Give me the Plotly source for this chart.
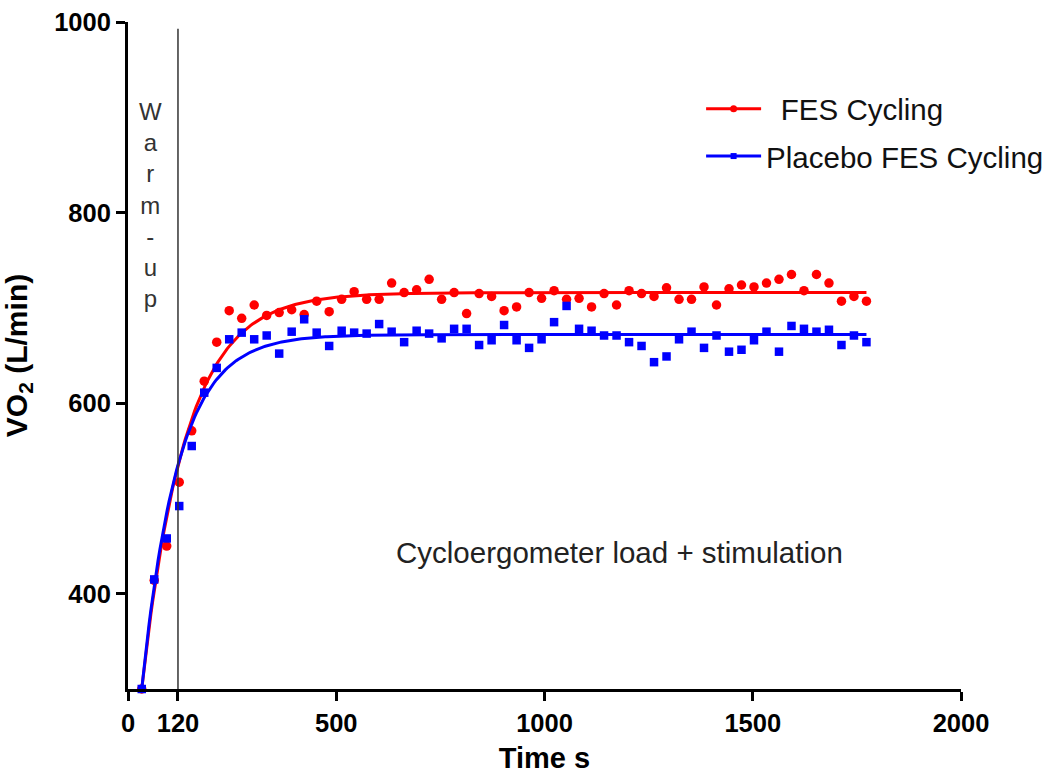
import numpy as np
import plotly.graph_objects as go

# ---- data ----
time_s = [33, 63, 93, 123, 153, 183, 213, 243, 273, 303, 333, 363, 393, 423, 453,
          483, 513, 543, 573, 603, 633, 663, 693, 723, 753, 783, 813, 843, 873, 903,
          933, 963, 993, 1023, 1053, 1083, 1113, 1143, 1173, 1203, 1233, 1263, 1293,
          1323, 1353, 1383, 1413, 1443, 1473, 1503, 1533, 1563, 1593, 1623, 1653,
          1683, 1713, 1743, 1773]

fes_vo2 = [300, 414, 450, 517, 571, 623, 664, 697, 689, 703, 692, 695, 698, 693, 707,
           696, 709, 717, 709, 709, 726, 716, 719, 730, 709, 716, 694, 715, 712, 697,
           701, 716, 710, 718, 709, 710, 701, 715, 703, 718, 715, 712, 721, 709, 709,
           722, 703, 720, 724, 722, 726, 730, 735, 718, 735, 726, 707, 712, 707]

placebo_vo2 = [300, 415, 458, 492, 555, 611, 637, 667, 674, 667, 671, 652, 675, 688, 674,
               660, 676, 674, 673, 683, 675, 664, 676, 673, 668, 678, 678, 661, 666, 682,
               666, 658, 667, 685, 702, 678, 676, 671, 671, 664, 660, 643, 649, 667, 675,
               658, 671, 654, 656, 666, 675, 654, 681, 678, 675, 677, 661, 671, 664]

# one-phase association fit parameters
fes_fit = dict(y0=300, plateau=716, tau=105)
placebo_fit = dict(y0=300, plateau=672, tau=87)

series_names = ["\u2002FES Cycling", "Placebo FES Cycling"]
x_ticks = [0, 120, 500, 1000, 1500, 2000]
y_ticks = [400, 600, 800, 1000]
warmup_end = 120

FONT = "Liberation Sans, Arial, sans-serif"


def one_phase(t, p, t0):
    t = np.asarray(t, float)
    return p["y0"] + (p["plateau"] - p["y0"]) * (1 - np.exp(-(t - t0) / p["tau"]))


t_curve = np.linspace(time_s[0], time_s[-1], 400)

fig = go.Figure()

# FES (red)
fig.add_trace(go.Scatter(x=time_s, y=fes_vo2, mode="markers", showlegend=False,
                         marker=dict(symbol="circle", size=9.5, color="#FF0000"),
                         cliponaxis=False))
fig.add_trace(go.Scatter(x=t_curve, y=one_phase(t_curve, fes_fit, time_s[0]),
                         mode="lines", showlegend=False,
                         line=dict(color="#FF0000", width=3)))
# Placebo (blue)
fig.add_trace(go.Scatter(x=time_s, y=placebo_vo2, mode="markers", showlegend=False,
                         marker=dict(symbol="square", size=8.5, color="#0000FF"),
                         cliponaxis=False))
fig.add_trace(go.Scatter(x=t_curve, y=one_phase(t_curve, placebo_fit, time_s[0]),
                         mode="lines", showlegend=False,
                         line=dict(color="#0000FF", width=3)))

# legend entries
fig.add_trace(go.Scatter(x=[None], y=[None], mode="lines+markers", name=series_names[0],
                         legendgroup="a",
                         line=dict(color="#FF0000", width=3),
                         marker=dict(symbol="circle", size=7, color="#FF0000")))
fig.add_trace(go.Scatter(x=[None], y=[None], mode="lines+markers", name=series_names[1],
                         legendgroup="b",
                         line=dict(color="#0000FF", width=3),
                         marker=dict(symbol="square", size=6, color="#0000FF")))

# warm-up separator
fig.add_shape(type="line", x0=warmup_end, x1=warmup_end, y0=300, y1=993,
              xref="x", yref="y", line=dict(color="#333333", width=1.5))

fig.add_annotation(x=53, y=808, xref="x", yref="y", showarrow=False,
                   text="W<br>a<br>r<br>m<br>-<br>u<br>p",
                   font=dict(family=FONT, size=24, color="#333333"))
fig.add_annotation(x=1181, y=443, xref="x", yref="y", showarrow=False,
                   text="Cycloergometer load + stimulation",
                   font=dict(family=FONT, size=29.5, color="#222222"))

axis_common = dict(showline=True, linewidth=3, linecolor="black", ticks="outside",
                   ticklen=9, tickwidth=3, tickcolor="black", showgrid=False,
                   zeroline=False, mirror=False, automargin=False,
                   ticklabeloverflow="allow",
                   tickfont=dict(family=FONT, size=25.5, color="black", weight="bold"))

fig.update_layout(
    template="none",
    width=1049, height=774,
    margin=dict(l=128, r=88, t=22, b=85, autoexpand=False),
    paper_bgcolor="white", plot_bgcolor="white",
    font=dict(family=FONT, color="black"),
    xaxis=dict(range=[0, 2000], tickvals=x_ticks, ticktext=[str(v) for v in x_ticks],
               title=dict(text="Time s", standoff=13,
                          font=dict(family=FONT, size=29, color="black", weight="bold")),
               **axis_common),
    yaxis=dict(range=[300, 1000], tickvals=y_ticks, ticktext=[str(v) for v in y_ticks],
               title=dict(text="VO<sub>2</sub> (L/min)", standoff=20,
                          font=dict(family=FONT, size=30, color="black", weight="bold")),
               **axis_common),
    legend=dict(x=0.688, y=0.9085, xanchor="left", yanchor="top",
                font=dict(family=FONT, size=29.5, color="#111111"),
                bgcolor="rgba(0,0,0,0)", tracegroupgap=6, itemwidth=55),
)

# page body without the browser's default 8px margin, so the figure sits at (0, 0)
fig.write_html("out.html", config={"displayModeBar": False},
               post_script="document.body.style.margin='0px';")
